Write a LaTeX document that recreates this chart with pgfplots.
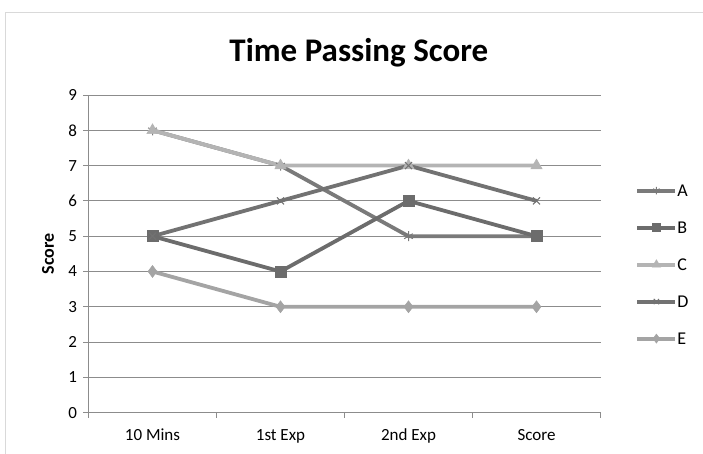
\documentclass[border=0pt]{standalone}
\usepackage{pgfplots}
\pgfplotsset{compat=1.18}
\usepackage{fontspec}
\setmainfont{Carlito}
\definecolor{cA}{HTML}{7A7A7A}
\definecolor{cB}{HTML}{6C6C6C}
\definecolor{cC}{HTML}{B4B4B4}
\definecolor{cD}{HTML}{727272}
\definecolor{cE}{HTML}{A4A4A4}
\definecolor{gridc}{HTML}{8C8C8C}
\definecolor{framec}{HTML}{D9D9D9}
\begin{document}
\begin{tikzpicture}
\path[use as bounding box] (-88.5pt,-41.3pt) rectangle (614.5pt,412.7pt);
\draw[framec, line width=1pt] (-82.5pt,-45pt) -- (-82.5pt,400.2pt) -- (620pt,400.2pt);
\begin{axis}[
  at={(0pt,0pt)}, anchor=south west,
  scale only axis, width=512pt, height=317.7pt,
  xmin=0, xmax=4, ymin=0, ymax=9,
  axis lines=left, axis line style={gridc, line width=0.8pt, -},
  xtick={0.5,1.5,2.5,3.5},
  xticklabels={10 Mins, 1st Exp, 2nd Exp, Score},
  minor xtick={0,1,2,3,4},
  ytick={0,1,...,9},
  ymajorgrids, grid style={gridc, line width=0.8pt},
  tick align=outside,
  major tick length=0pt,
  minor tick length=5pt,
  every minor tick/.style={gridc, line width=0.8pt},
  extra y ticks={0,1,...,9}, extra y tick labels={},
  extra y tick style={major tick length=5pt, grid=none, every major tick/.append style={gridc, line width=0.8pt}},
  tick label style={font=\fontsize{17}{19}\selectfont, black},
  /pgf/number format/assume math mode=true,
  yticklabel style={xshift=-8pt},
  xticklabel style={yshift=-13.5pt, text height=11pt, text depth=3pt},
  ylabel={\textbf{Score}}, ylabel style={font=\fontsize{18}{20}\selectfont, at={(axis description cs:-0.079,0.5)}, anchor=center},
  title={\textbf{Time Passing Score}},
  title style={font=\fontsize{33}{36}\selectfont, at={(axis description cs:0.528,1.087)}, anchor=base},
  legend style={draw=none, fill=none, at={(axis description cs:1.068,0.463)}, anchor=west,
    font=\fontsize{18}{20}\selectfont, row sep=22pt, inner sep=0pt,
    nodes={inner sep=0pt, text height=12pt, text depth=3pt},
    /tikz/every even column/.append style={column sep=6pt}},
  legend cell align=left,
  legend image code/.code={\draw[mark repeat=2,mark phase=2, every mark/.append style={scale=0.75}] plot coordinates {(0pt,1pt) (19pt,1pt) (38pt,1pt)};},
  every axis plot/.append style={line width=3.8pt},
  clip=false,
]
\addplot[cA, mark=asterisk, mark size=5pt, mark options={line width=1pt, solid}] coordinates {(0.5,8) (1.5,7) (2.5,5) (3.5,5)};
\addlegendentry{A}
\addplot[cB, mark=square*, mark size=5.5pt, mark options={line width=0.5pt}] coordinates {(0.5,5) (1.5,4) (2.5,6) (3.5,5)};
\addlegendentry{B}
\addplot[cC, mark=triangle*, mark size=6.5pt, mark options={line width=0.5pt}] coordinates {(0.5,8) (1.5,7) (2.5,7) (3.5,7)};
\addlegendentry{C}
\addplot[cD, mark=x, mark size=5pt, mark options={line width=1pt}] coordinates {(0.5,5) (1.5,6) (2.5,7) (3.5,6)};
\addlegendentry{D}
\addplot[cE, mark=diamond*, mark size=6pt, mark options={line width=0.5pt}] coordinates {(0.5,4) (1.5,3) (2.5,3) (3.5,3)};
\addlegendentry{E}
\end{axis}
\end{tikzpicture}
\end{document}
